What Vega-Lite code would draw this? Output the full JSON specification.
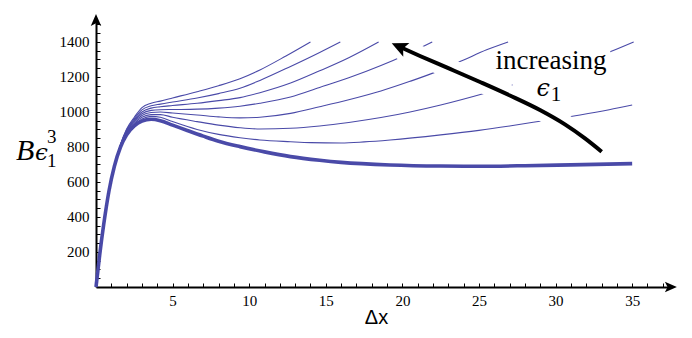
{
  "$schema": "https://vega.github.io/schema/vega-lite/v6.json",
  "width": 574,
  "height": 265,
  "autosize": "none",
  "padding": {"left": 96, "top": 22, "right": 22, "bottom": 51},
  "config": {"view": {"stroke": null}, "background": "white", "axis": {"labelOverlap": false, "labelFlush": false, "labelBound": false}},
  "datasets": {
    "curves": [
      {"c":"T","x":0,"y":0},{"c":"T","x":0.25,"y":190},{"c":"T","x":0.5,"y":355},{"c":"T","x":0.85,"y":550},{"c":"T","x":1.2,"y":690},{"c":"T","x":1.6,"y":800},{"c":"T","x":2,"y":870},{"c":"T","x":2.5,"y":920},{"c":"T","x":3,"y":948},{"c":"T","x":3.6,"y":958},{"c":"T","x":4.2,"y":950},{"c":"T","x":5,"y":925},{"c":"T","x":6,"y":893},{"c":"T","x":7,"y":862},{"c":"T","x":8,"y":833},{"c":"T","x":9.4,"y":802},{"c":"T","x":11,"y":772},{"c":"T","x":12.7,"y":745},{"c":"T","x":14.6,"y":724},{"c":"T","x":16,"y":712},{"c":"T","x":19.2,"y":697},{"c":"T","x":22.5,"y":691},{"c":"T","x":25,"y":690},{"c":"T","x":28,"y":693},{"c":"T","x":31,"y":698},{"c":"T","x":35,"y":705},

      {"c":"C1","x":0,"y":0},{"c":"C1","x":0.25,"y":190},{"c":"C1","x":0.5,"y":355},{"c":"C1","x":0.85,"y":550},{"c":"C1","x":1.2,"y":690},{"c":"C1","x":1.6,"y":803},{"c":"C1","x":2,"y":877},{"c":"C1","x":2.5,"y":928},{"c":"C1","x":3,"y":960},{"c":"C1","x":3.6,"y":975},{"c":"C1","x":4.2,"y":970},{"c":"C1","x":5,"y":945},{"c":"C1","x":6.6,"y":900},{"c":"C1","x":8,"y":872},{"c":"C1","x":9.4,"y":853},{"c":"C1","x":10.7,"y":840},{"c":"C1","x":12.7,"y":830},{"c":"C1","x":14,"y":825},{"c":"C1","x":16,"y":823},{"c":"C1","x":17.5,"y":829},{"c":"C1","x":19.2,"y":840},{"c":"C1","x":22.5,"y":869},{"c":"C1","x":25,"y":895},{"c":"C1","x":27,"y":920},{"c":"C1","x":29.2,"y":950},{"c":"C1","x":31.6,"y":983},{"c":"C1","x":33.5,"y":1013},{"c":"C1","x":35,"y":1040},

      {"c":"C2","x":0,"y":0},{"c":"C2","x":0.25,"y":190},{"c":"C2","x":0.5,"y":355},{"c":"C2","x":0.85,"y":550},{"c":"C2","x":1.2,"y":690},{"c":"C2","x":1.6,"y":805},{"c":"C2","x":2,"y":882},{"c":"C2","x":2.5,"y":935},{"c":"C2","x":3,"y":970},{"c":"C2","x":3.6,"y":985},{"c":"C2","x":4.2,"y":985},{"c":"C2","x":5,"y":970},{"c":"C2","x":6.6,"y":945},{"c":"C2","x":8,"y":925},{"c":"C2","x":9.4,"y":910},{"c":"C2","x":10.7,"y":903},{"c":"C2","x":12.7,"y":907},{"c":"C2","x":14.6,"y":920},{"c":"C2","x":16.5,"y":940},{"c":"C2","x":18.6,"y":968},{"c":"C2","x":20.5,"y":1000},{"c":"C2","x":22.5,"y":1040},{"c":"C2","x":25.5,"y":1110},{"c":"C2","x":28,"y":1175},{"c":"C2","x":30,"y":1230},{"c":"C2","x":32,"y":1290},{"c":"C2","x":33.6,"y":1345},{"c":"C2","x":35.1,"y":1400},

      {"c":"C3","x":0,"y":0},{"c":"C3","x":0.25,"y":190},{"c":"C3","x":0.5,"y":355},{"c":"C3","x":0.85,"y":550},{"c":"C3","x":1.2,"y":690},{"c":"C3","x":1.6,"y":807},{"c":"C3","x":2,"y":886},{"c":"C3","x":2.5,"y":942},{"c":"C3","x":3,"y":980},{"c":"C3","x":3.6,"y":997},{"c":"C3","x":4.2,"y":1000},{"c":"C3","x":5,"y":994},{"c":"C3","x":6.6,"y":983},{"c":"C3","x":8,"y":972},{"c":"C3","x":9.4,"y":966},{"c":"C3","x":10.7,"y":970},{"c":"C3","x":12.7,"y":992},{"c":"C3","x":14.6,"y":1030},{"c":"C3","x":16.5,"y":1070},{"c":"C3","x":18.6,"y":1120},{"c":"C3","x":20.5,"y":1175},{"c":"C3","x":22.2,"y":1229},{"c":"C3","x":24,"y":1297},{"c":"C3","x":25.5,"y":1355},{"c":"C3","x":26.9,"y":1400},

      {"c":"C4","x":0,"y":0},{"c":"C4","x":0.25,"y":190},{"c":"C4","x":0.5,"y":355},{"c":"C4","x":0.85,"y":550},{"c":"C4","x":1.2,"y":690},{"c":"C4","x":1.6,"y":809},{"c":"C4","x":2,"y":890},{"c":"C4","x":2.5,"y":948},{"c":"C4","x":3,"y":990},{"c":"C4","x":3.6,"y":1009},{"c":"C4","x":4.2,"y":1013},{"c":"C4","x":5,"y":1014},{"c":"C4","x":6.6,"y":1016},{"c":"C4","x":8,"y":1022},{"c":"C4","x":9.4,"y":1033},{"c":"C4","x":10.7,"y":1050},{"c":"C4","x":12.7,"y":1085},{"c":"C4","x":14.6,"y":1140},{"c":"C4","x":16.5,"y":1195},{"c":"C4","x":18.6,"y":1265},{"c":"C4","x":20.3,"y":1330},{"c":"C4","x":21.95,"y":1400},

      {"c":"C5","x":0,"y":0},{"c":"C5","x":0.25,"y":190},{"c":"C5","x":0.5,"y":355},{"c":"C5","x":0.85,"y":550},{"c":"C5","x":1.2,"y":690},{"c":"C5","x":1.6,"y":811},{"c":"C5","x":2,"y":894},{"c":"C5","x":2.5,"y":955},{"c":"C5","x":3,"y":1000},{"c":"C5","x":3.6,"y":1022},{"c":"C5","x":4.2,"y":1030},{"c":"C5","x":5,"y":1037},{"c":"C5","x":6.6,"y":1050},{"c":"C5","x":8,"y":1065},{"c":"C5","x":9.4,"y":1082},{"c":"C5","x":10.7,"y":1110},{"c":"C5","x":12.7,"y":1165},{"c":"C5","x":14.6,"y":1235},{"c":"C5","x":16.5,"y":1310},{"c":"C5","x":18.45,"y":1400},

      {"c":"C6","x":0,"y":0},{"c":"C6","x":0.25,"y":190},{"c":"C6","x":0.5,"y":355},{"c":"C6","x":0.85,"y":550},{"c":"C6","x":1.2,"y":690},{"c":"C6","x":1.6,"y":813},{"c":"C6","x":2,"y":898},{"c":"C6","x":2.5,"y":962},{"c":"C6","x":3,"y":1012},{"c":"C6","x":3.6,"y":1035},{"c":"C6","x":4.2,"y":1045},{"c":"C6","x":5,"y":1057},{"c":"C6","x":6.6,"y":1080},{"c":"C6","x":8,"y":1105},{"c":"C6","x":9.4,"y":1135},{"c":"C6","x":10.7,"y":1180},{"c":"C6","x":12.7,"y":1260},{"c":"C6","x":14.6,"y":1340},{"c":"C6","x":15.95,"y":1400},

      {"c":"C7","x":0,"y":0},{"c":"C7","x":0.25,"y":190},{"c":"C7","x":0.5,"y":355},{"c":"C7","x":0.85,"y":550},{"c":"C7","x":1.2,"y":690},{"c":"C7","x":1.6,"y":815},{"c":"C7","x":2,"y":903},{"c":"C7","x":2.5,"y":970},{"c":"C7","x":3,"y":1025},{"c":"C7","x":3.6,"y":1050},{"c":"C7","x":4.2,"y":1062},{"c":"C7","x":5,"y":1080},{"c":"C7","x":6.6,"y":1116},{"c":"C7","x":8,"y":1150},{"c":"C7","x":9.4,"y":1190},{"c":"C7","x":10.7,"y":1240},{"c":"C7","x":12.4,"y":1320},{"c":"C7","x":14,"y":1400}
    ],
    "arrow": [
      {"x":19.9,"y":1369},{"x":21.15,"y":1320},{"x":23.11,"y":1246},{"x":25.07,"y":1171},{"x":27.02,"y":1094},{"x":28.98,"y":1011},{"x":30.61,"y":929},{"x":31.92,"y":849},{"x":33.01,"y":773}
    ],
    "head": [{"x":19.9,"y":1369}],
    "labelbox": [{"x":27.2,"x2":33.57,"y":1057,"y2":1389}],
    "notes": [
      {"part":"word","t":"increasing","x":29.7,"y":1243},
      {"part":"eps","t":"ϵ","x":28.76,"y":1091},
      {"part":"idx","t":"1","x":29.68,"y":1060}
    ],
    "ytitle": [
      {"part":"B","t":"B","x":-5.22,"y":726},
      {"part":"eps","t":"ϵ","x":-3.98,"y":726},
      {"part":"sup","t":"3","x":-3.2,"y":823},
      {"part":"sub","t":"1","x":-3.2,"y":686}
    ]
  },
  "layer": [
    {
      "data": {"name": "curves"},
      "transform": [{"filter": "datum.c === 'T'"}],
      "mark": {"type": "line", "color": "#4a4aa8", "strokeWidth": 3.6, "interpolate": "monotone"},
      "encoding": {
        "x": {"field": "x", "type": "quantitative",
          "scale": {"domain": [0, 37.47], "nice": false, "zero": false},
          "axis": {
            "values": [1,2,3,4,5,6,7,8,9,10,11,12,13,14,15,16,17,18,19,20,21,22,23,24,25,26,27,28,29,30,31,32,33,34,35,36,37],
            "tickCount": 200,
            "format": "d",
            "labelExpr": "datum.value % 5 === 0 ? datum.label : ''",
            "labelOverlap": false, "labelFlush": false, "labelBound": false,
            "grid": false, "domainColor": "black", "domainWidth": 2,
            "tickColor": "black", "tickWidth": 1, "tickSize": -4,
            "labelFont": "Liberation Serif", "labelFontSize": 15, "labelColor": "black", "labelPadding": 10,
            "title": "Δx", "titleFont": "Liberation Sans", "titleFontSize": 20, "titleFontWeight": "normal", "titleColor": "black",
            "titleX": 280, "titleY": 36, "titleBaseline": "alphabetic", "titleAlign": "center"
          }
        },
        "y": {"field": "y", "type": "quantitative",
          "scale": {"domain": [0, 1514], "nice": false, "zero": false},
          "axis": {
            "values": [50,100,150,200,250,300,350,400,450,500,550,600,650,700,750,800,850,900,950,1000,1050,1100,1150,1200,1250,1300,1350,1400,1450,1500],
            "tickCount": 200,
            "format": "d",
            "labelExpr": "datum.value % 200 === 0 ? datum.label : ''",
            "labelOverlap": false, "labelFlush": false, "labelBound": false,
            "grid": false, "domainColor": "black", "domainWidth": 2,
            "tickColor": "black", "tickWidth": 1, "tickSize": -4,
            "labelFont": "Liberation Serif", "labelFontSize": 15, "labelColor": "black", "labelPadding": 11,
            "title": null
          }
        }
      }
    },
    {
      "data": {"name": "curves"},
      "transform": [{"filter": "datum.c !== 'T'"}],
      "mark": {"type": "line", "color": "#4a4aa8", "strokeWidth": 1.1, "interpolate": "monotone"},
      "encoding": {
        "x": {"field": "x", "type": "quantitative"},
        "y": {"field": "y", "type": "quantitative"},
        "detail": {"field": "c"}
      }
    },
    {
      "data": {"name": "labelbox"},
      "mark": {"type": "rect", "color": "white", "opacity": 1},
      "encoding": {
        "x": {"field": "x", "type": "quantitative"},
        "x2": {"field": "x2"},
        "y": {"field": "y", "type": "quantitative"},
        "y2": {"field": "y2"}
      }
    },
    {
      "data": {"name": "arrow"},
      "mark": {"type": "line", "color": "white", "strokeWidth": 20, "strokeCap": "butt", "interpolate": "monotone"},
      "encoding": {
        "x": {"field": "x", "type": "quantitative"},
        "y": {"field": "y", "type": "quantitative"}
      }
    },
    {
      "data": {"name": "head"},
      "mark": {"type": "point", "shape": "M0,-1L0.75,0.6L0,0.25L-0.75,0.6Z", "angle": 294, "size": 400, "filled": true, "color": "white", "stroke": "white", "strokeWidth": 12, "opacity": 1},
      "encoding": {
        "x": {"field": "x", "type": "quantitative"},
        "y": {"field": "y", "type": "quantitative"}
      }
    },
    {
      "data": {"name": "arrow"},
      "mark": {"type": "line", "color": "black", "strokeWidth": 4, "strokeCap": "butt", "interpolate": "monotone"},
      "encoding": {
        "x": {"field": "x", "type": "quantitative"},
        "y": {"field": "y", "type": "quantitative"}
      }
    },
    {
      "data": {"name": "head"},
      "mark": {"type": "point", "shape": "M0,-1L0.75,0.6L0,0.25L-0.75,0.6Z", "angle": 294, "size": 400, "filled": true, "color": "black", "opacity": 1},
      "encoding": {
        "x": {"field": "x", "type": "quantitative"},
        "y": {"field": "y", "type": "quantitative"}
      }
    },
    {
      "data": {"name": "notes"},
      "transform": [{"filter": "datum.part === 'word'"}],
      "mark": {"type": "text", "font": "Liberation Serif", "fontSize": 27, "align": "center", "baseline": "alphabetic", "color": "black"},
      "encoding": {
        "x": {"field": "x", "type": "quantitative"},
        "y": {"field": "y", "type": "quantitative"},
        "text": {"field": "t"}
      }
    },
    {
      "data": {"name": "notes"},
      "transform": [{"filter": "datum.part === 'eps'"}],
      "mark": {"type": "text", "font": "DejaVu Serif", "fontStyle": "italic", "fontSize": 24, "align": "left", "baseline": "alphabetic", "color": "black"},
      "encoding": {
        "x": {"field": "x", "type": "quantitative"},
        "y": {"field": "y", "type": "quantitative"},
        "text": {"field": "t"}
      }
    },
    {
      "data": {"name": "notes"},
      "transform": [{"filter": "datum.part === 'idx'"}],
      "mark": {"type": "text", "font": "Liberation Serif", "fontSize": 21, "align": "left", "baseline": "alphabetic", "color": "black"},
      "encoding": {
        "x": {"field": "x", "type": "quantitative"},
        "y": {"field": "y", "type": "quantitative"},
        "text": {"field": "t"}
      }
    },
    {
      "data": {"values": [{"x": 37.43, "y": 0}]},
      "mark": {"type": "point", "shape": "M0,-1L0.7,0.6L0,0.25L-0.7,0.6Z", "angle": 90, "size": 225, "filled": true, "color": "black", "opacity": 1},
      "encoding": {
        "x": {"field": "x", "type": "quantitative"},
        "y": {"field": "y", "type": "quantitative"}
      }
    },
    {
      "data": {"values": [{"x": 0, "y": 1517}]},
      "mark": {"type": "point", "shape": "M0,-1L0.7,0.6L0,0.25L-0.7,0.6Z", "angle": 0, "size": 225, "filled": true, "color": "black", "opacity": 1},
      "encoding": {
        "x": {"field": "x", "type": "quantitative"},
        "y": {"field": "y", "type": "quantitative"}
      }
    },
    {
      "data": {"name": "ytitle"},
      "transform": [{"filter": "datum.part === 'B'"}],
      "mark": {"type": "text", "font": "Liberation Serif", "fontStyle": "italic", "fontSize": 30, "align": "left", "baseline": "alphabetic", "color": "black"},
      "encoding": {
        "x": {"field": "x", "type": "quantitative"},
        "y": {"field": "y", "type": "quantitative"},
        "text": {"field": "t"}
      }
    },
    {
      "data": {"name": "ytitle"},
      "transform": [{"filter": "datum.part === 'eps'"}],
      "mark": {"type": "text", "font": "DejaVu Serif", "fontStyle": "italic", "fontSize": 23, "align": "left", "baseline": "alphabetic", "color": "black"},
      "encoding": {
        "x": {"field": "x", "type": "quantitative"},
        "y": {"field": "y", "type": "quantitative"},
        "text": {"field": "t"}
      }
    },
    {
      "data": {"name": "ytitle"},
      "transform": [{"filter": "datum.part === 'sup' || datum.part === 'sub'"}],
      "mark": {"type": "text", "font": "Liberation Serif", "fontSize": 19, "align": "left", "baseline": "alphabetic", "color": "black"},
      "encoding": {
        "x": {"field": "x", "type": "quantitative"},
        "y": {"field": "y", "type": "quantitative"},
        "text": {"field": "t"}
      }
    }
  ]
}
